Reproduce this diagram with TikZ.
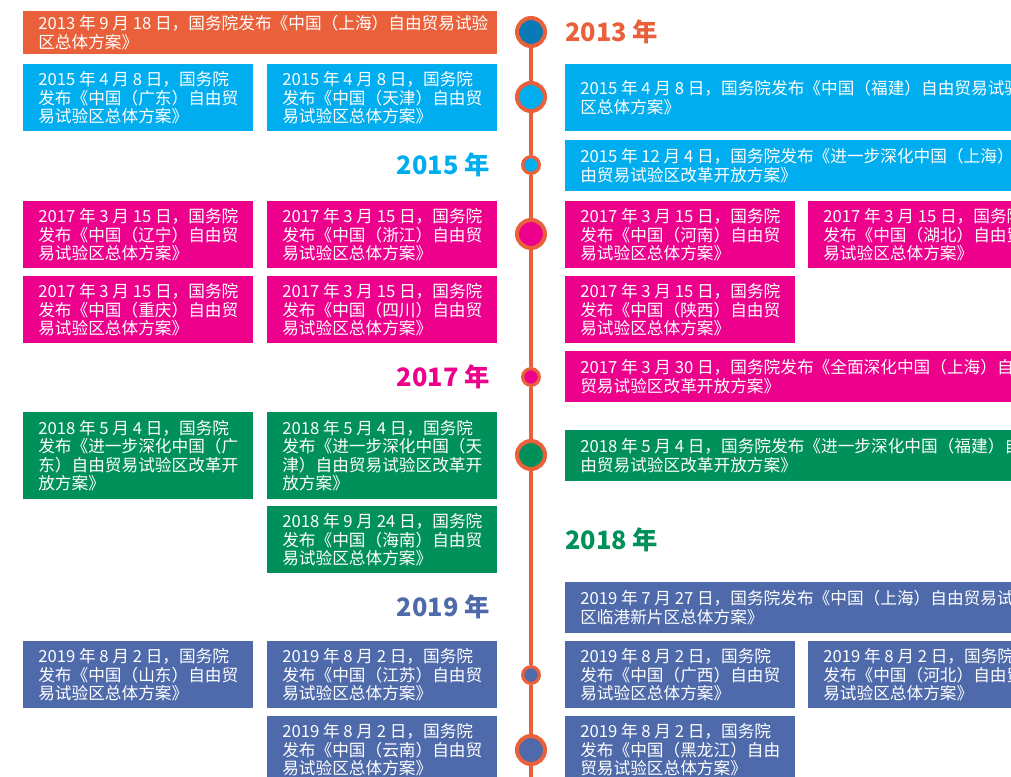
\documentclass[tikz,border=0pt]{standalone}
\usepackage{fontspec}
\setmainfont{Noto Sans CJK SC}
\usepackage{tikz}

\definecolor{ftzorange}{HTML}{E9603A}
\definecolor{ftzcyan}{HTML}{00AEEF}
\definecolor{ftzmagenta}{HTML}{EC008C}
\definecolor{ftzgreen}{HTML}{00905A}
\definecolor{ftzslate}{HTML}{4E6AAA}
\definecolor{ftzdark}{HTML}{0A7AB4}

\begin{document}
\begin{tikzpicture}[x=0.75pt, y=-0.75pt,
    evt/.style={fill=#1, anchor=north west, inner sep=0pt,
        minimum width=172.5pt, minimum height=50.25pt},
    txt/.style={anchor=west, align=left, inner sep=0pt, text=white,
        font=\fontsize{12.5}{13.9}\selectfont},
    bigdot/.style={circle, draw=ftzorange, line width=3pt, fill=#1,
        inner sep=0pt, minimum size=21pt},
    smalldot/.style={circle, draw=ftzorange, line width=2.4pt, fill=#1,
        inner sep=0pt, minimum size=12.5pt},
    yearlbl/.style={text=#1, inner sep=0pt,
        font=\bfseries\fontsize{19}{22}\selectfont}]
    \useasboundingbox (0,0) rectangle (1011,776);
    \clip (0,0) rectangle (1011,776);

    % timeline dots
    \node[bigdot=ftzdark] (d13) at (531,32) {};
    \node[bigdot=ftzcyan] (d15a) at (531,97) {};
    \node[smalldot=ftzcyan] (d15b) at (531,165) {};
    \node[bigdot=ftzmagenta] (d17a) at (531,234) {};
    \node[smalldot=ftzmagenta] (d17b) at (531,377) {};
    \node[bigdot=ftzgreen] (d18) at (531,455) {};
    \node[smalldot=ftzslate] (d19a) at (531,675) {};
    \node[bigdot=ftzslate] (d19b) at (531,750) {};
    \coordinate (tend) at (531,790);
    \draw[ftzorange, line width=3pt] (d13) -- (d15a) -- (d15b) -- (d17a)
        -- (d17b) -- (d18) -- (d19a) -- (d19b) -- (tend);

    % years
    \node[yearlbl=ftzorange, anchor=west] (y13) at (565,32) {2013 年};
    \node[yearlbl=ftzcyan, anchor=east] (y15) at (490,165) {2015 年};
    \node[yearlbl=ftzmagenta, anchor=east] (y17) at (490,377) {2017 年};
    \node[yearlbl=ftzgreen, anchor=west] (y18) at (565,540) {2018 年};
    \node[yearlbl=ftzslate, anchor=east] (y19) at (490,607) {2019 年};

    % 2013
    \node[evt=ftzorange, minimum width=355.5pt, minimum height=32.25pt] (sh13) at (23,11) {};
    \node[txt] at ([xshift=11.25pt]sh13.west) {2013 年 9 月 18 日，国务院发布《中国（上海）自由贸易试验\\区总体方案》};

    % 2015
    \node[evt=ftzcyan] (gd15) at (23,64) {};
    \node[txt] at ([xshift=11.25pt]gd15.west) {2015 年 4 月 8 日，国务院\\发布《中国（广东）自由贸\\易试验区总体方案》};
    \node[evt=ftzcyan] (tj15) at (267,64) {};
    \node[txt] at ([xshift=11.25pt]tj15.west) {2015 年 4 月 8 日，国务院\\发布《中国（天津）自由贸\\易试验区总体方案》};
    \node[evt=ftzcyan, minimum width=360pt] (fj15) at (565,64) {};
    \node[txt] at ([xshift=11.25pt]fj15.west) {2015 年 4 月 8 日，国务院发布《中国（福建）自由贸易试验\\区总体方案》};
    \node[evt=ftzcyan, minimum width=360pt, minimum height=38.25pt] (sh15) at (565,140) {};
    \node[txt] at ([xshift=11.25pt]sh15.west) {2015 年 12 月 4 日，国务院发布《进一步深化中国（上海）自\\由贸易试验区改革开放方案》};

    % 2017
    \node[evt=ftzmagenta] (ln17) at (23,201) {};
    \node[txt] at ([xshift=11.25pt]ln17.west) {2017 年 3 月 15 日，国务院\\发布《中国（辽宁）自由贸\\易试验区总体方案》};
    \node[evt=ftzmagenta] (zj17) at (267,201) {};
    \node[txt] at ([xshift=11.25pt]zj17.west) {2017 年 3 月 15 日，国务院\\发布《中国（浙江）自由贸\\易试验区总体方案》};
    \node[evt=ftzmagenta] (hen17) at (565,201) {};
    \node[txt] at ([xshift=11.25pt]hen17.west) {2017 年 3 月 15 日，国务院\\发布《中国（河南）自由贸\\易试验区总体方案》};
    \node[evt=ftzmagenta] (hub17) at (808,201) {};
    \node[txt] at ([xshift=11.25pt]hub17.west) {2017 年 3 月 15 日，国务院\\发布《中国（湖北）自由贸\\易试验区总体方案》};
    \node[evt=ftzmagenta] (cq17) at (23,276) {};
    \node[txt] at ([xshift=11.25pt]cq17.west) {2017 年 3 月 15 日，国务院\\发布《中国（重庆）自由贸\\易试验区总体方案》};
    \node[evt=ftzmagenta] (sc17) at (267,276) {};
    \node[txt] at ([xshift=11.25pt]sc17.west) {2017 年 3 月 15 日，国务院\\发布《中国（四川）自由贸\\易试验区总体方案》};
    \node[evt=ftzmagenta] (sx17) at (565,276) {};
    \node[txt] at ([xshift=11.25pt]sx17.west) {2017 年 3 月 15 日，国务院\\发布《中国（陕西）自由贸\\易试验区总体方案》};
    \node[evt=ftzmagenta, minimum width=360pt, minimum height=38.25pt] (sh17) at (565,351) {};
    \node[txt] at ([xshift=11.25pt]sh17.west) {2017 年 3 月 30 日，国务院发布《全面深化中国（上海）自由\\贸易试验区改革开放方案》};

    % 2018
    \node[evt=ftzgreen, minimum height=65.25pt] (gd18) at (23,412) {};
    \node[txt] at ([xshift=11.25pt]gd18.west) {2018 年 5 月 4 日，国务院\\发布《进一步深化中国（广\\东）自由贸易试验区改革开\\放方案》};
    \node[evt=ftzgreen, minimum height=65.25pt] (tj18) at (267,412) {};
    \node[txt] at ([xshift=11.25pt]tj18.west) {2018 年 5 月 4 日，国务院\\发布《进一步深化中国（天\\津）自由贸易试验区改革开\\放方案》};
    \node[evt=ftzgreen, minimum width=360pt, minimum height=38.25pt] (fj18) at (565,430) {};
    \node[txt] at ([xshift=11.25pt]fj18.west) {2018 年 5 月 4 日，国务院发布《进一步深化中国（福建）自\\由贸易试验区改革开放方案》};
    \node[evt=ftzgreen] (hn18) at (267,506) {};
    \node[txt] at ([xshift=11.25pt]hn18.west) {2018 年 9 月 24 日，国务院\\发布《中国（海南）自由贸\\易试验区总体方案》};

    % 2019
    \node[evt=ftzslate, minimum width=360pt, minimum height=38.25pt] (lg19) at (565,582) {};
    \node[txt] at ([xshift=11.25pt]lg19.west) {2019 年 7 月 27 日，国务院发布《中国（上海）自由贸易试验\\区临港新片区总体方案》};
    \node[evt=ftzslate] (sd19) at (23,641) {};
    \node[txt] at ([xshift=11.25pt]sd19.west) {2019 年 8 月 2 日，国务院\\发布《中国（山东）自由贸\\易试验区总体方案》};
    \node[evt=ftzslate] (js19) at (267,641) {};
    \node[txt] at ([xshift=11.25pt]js19.west) {2019 年 8 月 2 日，国务院\\发布《中国（江苏）自由贸\\易试验区总体方案》};
    \node[evt=ftzslate] (gx19) at (565,641) {};
    \node[txt] at ([xshift=11.25pt]gx19.west) {2019 年 8 月 2 日，国务院\\发布《中国（广西）自由贸\\易试验区总体方案》};
    \node[evt=ftzslate] (heb19) at (808,641) {};
    \node[txt] at ([xshift=11.25pt]heb19.west) {2019 年 8 月 2 日，国务院\\发布《中国（河北）自由贸\\易试验区总体方案》};
    \node[evt=ftzslate] (yn19) at (267,716) {};
    \node[txt] at ([xshift=11.25pt]yn19.west) {2019 年 8 月 2 日，国务院\\发布《中国（云南）自由贸\\易试验区总体方案》};
    \node[evt=ftzslate] (hlj19) at (565,716) {};
    \node[txt] at ([xshift=11.25pt]hlj19.west) {2019 年 8 月 2 日，国务院\\发布《中国（黑龙江）自由\\贸易试验区总体方案》};
\end{tikzpicture}
\end{document}
